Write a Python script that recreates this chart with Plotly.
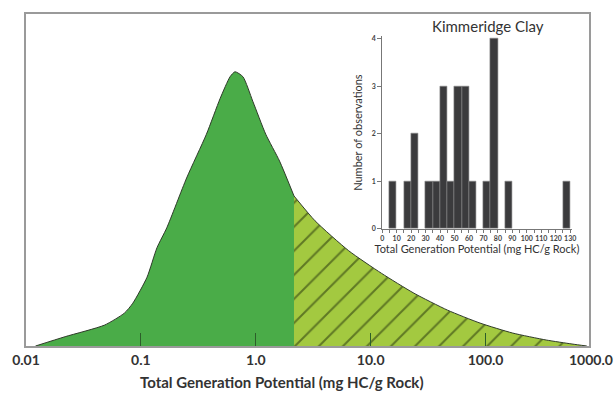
import plotly.graph_objects as go

# Main density curve, x in mg HC/g rock, y relative density
x_left = [0.0121, 0.0219, 0.0483, 0.0718, 0.0851, 0.113, 0.138, 0.168, 0.250, 0.372,
          0.490, 0.597, 0.659, 0.773, 0.942, 1.22, 1.61, 2.15]
y_left = [0.0, 0.028, 0.063, 0.099, 0.129, 0.207, 0.296, 0.356, 0.506, 0.638,
          0.746, 0.811, 0.826, 0.811, 0.737, 0.638, 0.557, 0.452]
x_right = [2.15, 3.28, 6.43, 12.4, 23.8, 46.6, 89.5, 172, 337, 565, 760]
y_right = [0.452, 0.377, 0.287, 0.219, 0.159, 0.108, 0.069, 0.039, 0.018, 0.006, 0.0]

main_tickvals = [0.01, 0.1, 1, 10, 100]
main_ticktext = ["0.01", "0.1", "1.0", "10.0", "100.0"]
last_tick_label = "1000.0"

# Inset histogram (Kimmeridge Clay)
bin_centers = [7.5, 17.5, 22.5, 32.5, 37.5, 42.5, 47.5, 52.5, 57.5, 62.5, 72.5, 77.5, 87.5, 127.5]
counts = [1, 1, 2, 1, 1, 3, 1, 3, 3, 1, 1, 4, 1, 1]
inset_xticks = list(range(0, 131, 10))

GREEN = "#4aac48"
YGREEN = "#a3c940"
FONT = "Lato"

fig = go.Figure()
fig.add_trace(go.Scatter(
    x=x_left, y=y_left, mode="lines", line=dict(color="#2f3a2a", width=1, shape="spline", smoothing=0.6),
    fill="tozeroy", fillcolor=GREEN, showlegend=False, hoverinfo="skip"))
fig.add_trace(go.Scatter(
    x=x_right, y=y_right, mode="lines", line=dict(color="#2f3a2a", width=1, shape="spline", smoothing=0.6),
    fill="tozeroy", fillcolor=YGREEN,
    fillpattern=dict(shape="/", bgcolor=YGREEN, fgcolor="#1c2808", size=17, solidity=0.12, fillmode="overlay"),
    showlegend=False, hoverinfo="skip"))

fig.add_trace(go.Bar(
    x=bin_centers, y=counts, width=5, xaxis="x2", yaxis="y2",
    marker=dict(color="#3b3b3d", line=dict(color="#8a8a8a", width=0.6)),
    showlegend=False, hoverinfo="skip"))

fig.update_layout(
    width=616, height=393,
    margin=dict(l=20, r=27, t=12, b=47),
    paper_bgcolor="white", plot_bgcolor="white",
    font=dict(family=FONT, color="#333333"),
    xaxis=dict(type="log", range=[-2, 2.9], tickvals=main_tickvals, ticktext=main_ticktext,
               ticks="inside", ticklen=13, tickwidth=1, tickcolor="#2c5e2a",
               tickfont=dict(family=FONT, size=14, weight="bold", color="#333333"),
               showline=True, linecolor="#9a9a9a", linewidth=1.5, mirror=True,
               showgrid=False, zeroline=False),
    yaxis=dict(range=[0, 1], showticklabels=False, ticks="", showline=True,
               linecolor="#9a9a9a", linewidth=1.5, mirror=True, showgrid=False, zeroline=False),
    xaxis2=dict(domain=[0.6327, 0.9692], anchor="y2", range=[0, 131],
                tickvals=inset_xticks, tickangle=0, ticks="outside", ticklen=3, tickwidth=1,
                tickcolor="#777777",
                minor=dict(dtick=5, tick0=0, ticks="outside", ticklen=3, tickcolor="#777777"),
                tickfont=dict(family=FONT, size=7, weight="bold", color="#444444"),
                showline=True, linecolor="#777777", linewidth=1, showgrid=False, zeroline=False,
                title=dict(text="Total Generation Potential (mg HC/g Rock)",
                           font=dict(family=FONT, size=11, color="#333333"), standoff=2)),
    yaxis2=dict(domain=[0.3533, 0.9323], anchor="x2", range=[0, 4.05],
                tickvals=[0, 1, 2, 3, 4], ticks="outside", ticklen=4, tickwidth=1, tickcolor="#777777",
                tickfont=dict(family=FONT, size=7, weight="bold", color="#444444"),
                showline=True, linecolor="#777777", linewidth=1, showgrid=False, zeroline=False,
                title=dict(text="Number of observations",
                           font=dict(family=FONT, size=11, color="#333333"), standoff=6)),
    bargap=0,
    annotations=[
        dict(text="Kimmeridge Clay", x=0.8207, y=0.964, xref="paper", yref="paper",
             xanchor="center", yanchor="middle", showarrow=False,
             font=dict(family=FONT, size=15, color="#333333")),
        dict(text="Total Generation Potential (mg HC/g Rock)", x=0.455, y=-0.1078,
             xref="paper", yref="paper", xanchor="center", yanchor="middle", showarrow=False,
             font=dict(family=FONT, size=15, weight="bold", color="#333333")),
        dict(text=last_tick_label, x=1.0457, y=-0.0419, xref="paper", yref="paper",
             xanchor="right", yanchor="middle", showarrow=False,
             font=dict(family=FONT, size=14, weight="bold", color="#333333")),
    ],
)

fig.write_html("out.html")
